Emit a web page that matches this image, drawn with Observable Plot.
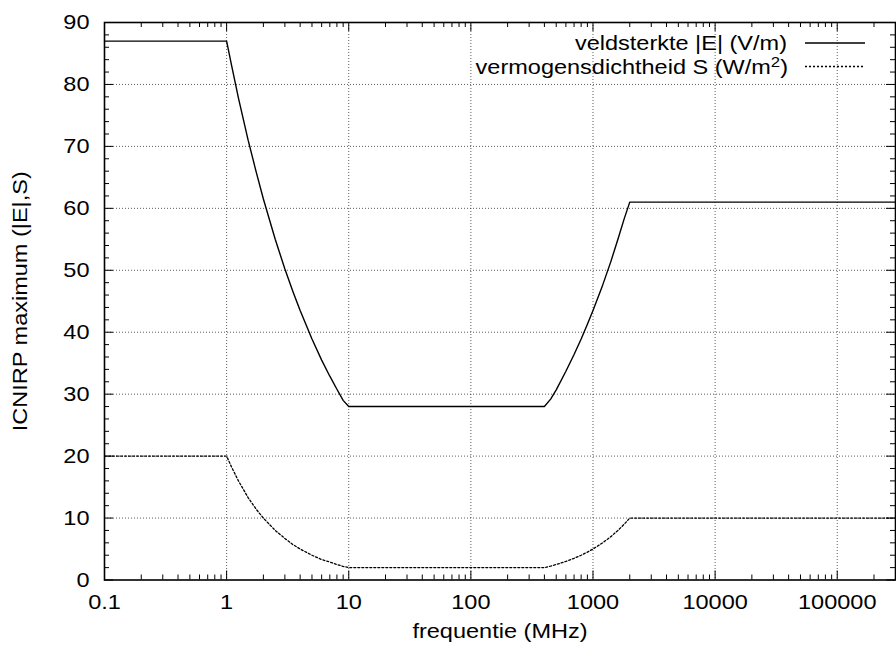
<!DOCTYPE html>
<html>
<head>
<meta charset="utf-8">
<script src="https://cdn.jsdelivr.net/npm/d3@7"></script>
<script src="https://cdn.jsdelivr.net/npm/@observablehq/plot@0.6"></script>
<style>
  html, body { margin: 0; padding: 0; background: #fff; }
  #chart svg { display: block; }
</style>
</head>
<body>
<div id="chart"></div>
<script>
const freq = [0.1, 1, 1.1, 1.25, 1.5, 1.75, 2, 2.5, 3, 3.5, 4, 5, 6, 7, 8, 9, 10,
              400, 450, 500, 600, 700, 800, 900, 1000, 1200, 1400, 1600, 1800, 2000, 300000];
// Field strength |E| (V/m)
const fieldE = [87, 87, 83, 77.8, 71, 65.8, 61.5, 55, 50.2, 46.5, 43.5, 38.9, 35.5, 32.9, 30.8, 29, 28,
                28, 29.2, 30.7, 33.7, 36.4, 38.9, 41.3, 43.5, 47.6, 51.4, 55, 58.3, 61, 61];
// Power density S (W/m^2)
const densityS = [20, 20, 18.2, 16, 13.3, 11.4, 10, 8, 6.7, 5.7, 5, 4, 3.3, 2.9, 2.5, 2.2, 2,
                  2, 2.25, 2.5, 3, 3.5, 4, 4.5, 5, 6, 7, 8, 9, 10, 10];

const xMajor = [0.1, 1, 10, 100, 1000, 10000, 100000];
const xGrid = [1, 10, 100, 1000, 10000, 100000];
const yMajor = [0, 10, 20, 30, 40, 50, 60, 70, 80, 90];
const yGrid = [10, 20, 30, 40, 50, 60, 70, 80];
const legendLabels = ["veldsterkte |E| (V/m)", "vermogensdichtheid S (W/m", "2", ")"];

const xMinor = [];
for (let d = 0.1; d < 300000; d *= 10) for (let k = 2; k <= 9; k++) if (d * k <= 300000) xMinor.push(+(d * k).toPrecision(3));
const yMinor = d3.range(0, 91, 2).filter(v => v % 10 !== 0);

const E = freq.map((f, i) => ({f, v: fieldE[i]}));
const S = freq.map((f, i) => ({f, v: densityS[i]}));

const W = 896, H = 649;
const mL = 104, mR = 1, mT = 22, mB = 69.5;
const innerH = H - mT - mB, innerW = W - mL - mR;
const FONT = "'Liberation Sans', Arial, Helvetica, sans-serif";
const FS = 21;
const STRETCH = 1.12; // reference glyphs are a little wider than Arial

function legend(index, scales, values, dims) {
  const g = d3.create("svg:g").attr("font-family", FONT).attr("font-size", FS).attr("class", "lg");
  const right = dims.width - dims.marginRight;
  const rows = [
    {y: dims.marginTop + 21, dash: null},
    {y: dims.marginTop + 44.5, dash: "2,2"}
  ];
  const x1 = right - 108, x2 = right - 107;
  g.append("text").attr("x", x1).attr("y", rows[0].y).attr("text-anchor", "end")
    .attr("dy", "0.35em").attr("transform", `translate(${x1},0) scale(${STRETCH},1) translate(${-x1},0)`)
    .text(legendLabels[0]);
  const t = g.append("text").attr("x", x2).attr("y", rows[1].y).attr("text-anchor", "end").attr("dy", "0.35em")
    .attr("transform", `translate(${x2},0) scale(${STRETCH},1) translate(${-x2},0)`);
  t.append("tspan").text(legendLabels[1]);
  t.append("tspan").attr("font-size", 15).attr("dy", "-0.45em").text(legendLabels[2]);
  t.append("tspan").attr("dy", "0.32em").text(legendLabels[3]);
  rows.forEach(r => {
    const l = g.append("line").attr("x1", right - 90).attr("x2", right - 30)
      .attr("y1", r.y).attr("y2", r.y).attr("stroke", "black").attr("stroke-width", 1.3);
    if (r.dash) l.attr("stroke-dasharray", r.dash);
  });
  return g.node();
}

const chart = Plot.plot({
  width: W, height: H,
  marginLeft: mL, marginRight: mR, marginTop: mT, marginBottom: mB,
  style: {fontFamily: FONT, fontSize: FS + "px", background: "white", color: "black"},
  x: {type: "log", domain: [0.1, 300000]},
  y: {domain: [0, 90]},
  marks: [
    Plot.ruleX(xGrid, {stroke: "black", strokeWidth: 0.8, strokeDasharray: "1,2", strokeOpacity: 0.8}),
    Plot.ruleY(yGrid, {stroke: "black", strokeWidth: 0.8, strokeDasharray: "1,2", strokeOpacity: 0.8}),
    Plot.ruleX(xMajor, {insetTop: innerH - 9, stroke: "black", strokeWidth: 1}),
    Plot.ruleX(xMajor, {insetBottom: innerH - 9, stroke: "black", strokeWidth: 1}),
    Plot.ruleX(xMinor, {insetTop: innerH - 5, stroke: "black", strokeWidth: 1}),
    Plot.ruleX(xMinor, {insetBottom: innerH - 5, stroke: "black", strokeWidth: 1}),
    Plot.ruleY(yMajor, {insetRight: innerW - 9, stroke: "black", strokeWidth: 1}),
    Plot.ruleY(yMajor, {insetLeft: innerW - 9, stroke: "black", strokeWidth: 1}),
    Plot.ruleY(yMinor, {insetRight: innerW - 5, stroke: "black", strokeWidth: 1}),
    Plot.ruleY(yMinor, {insetLeft: innerW - 5, stroke: "black", strokeWidth: 1}),
    Plot.axisX({ticks: xMajor, tickSize: 0, tickPadding: 14, tickFormat: d => String(d), fontSize: FS, label: null}),
    Plot.axisY({ticks: yMajor, tickSize: 0, tickPadding: 15, fontSize: FS, label: null}),
    Plot.line(E, {x: "f", y: "v", stroke: "black", strokeWidth: 1.4}),
    Plot.line(S, {x: "f", y: "v", stroke: "black", strokeWidth: 1.3, strokeDasharray: "2,2"}),
    Plot.frame({stroke: "black", strokeWidth: 1.6}),
    Plot.text(["frequentie (MHz)"], {frameAnchor: "bottom", dy: 58, fontSize: FS}),
    Plot.text(["ICNIRP maximum (|E|,S)"], {frameAnchor: "left", textAnchor: "middle", rotate: -90, dx: -84, fontSize: FS}),
    legend
  ]
});
document.getElementById("chart").appendChild(chart);
// widen glyphs of the library's texts to match the reference's letter widths
chart.querySelectorAll("text").forEach(t => {
  if (t.closest(".lg")) return;
  if (t.querySelector("tspan")) return;
  const tr = t.getAttribute("transform") || "";
  if (tr.includes("rotate")) {
    t.setAttribute("transform", tr + ` scale(${STRETCH},1)`);
    return;
  }
  const w = t.getComputedTextLength();
  if (w > 0) {
    t.setAttribute("textLength", (w * STRETCH).toFixed(2));
    t.setAttribute("lengthAdjust", "spacingAndGlyphs");
  }
});
</script>
</body>
</html>
